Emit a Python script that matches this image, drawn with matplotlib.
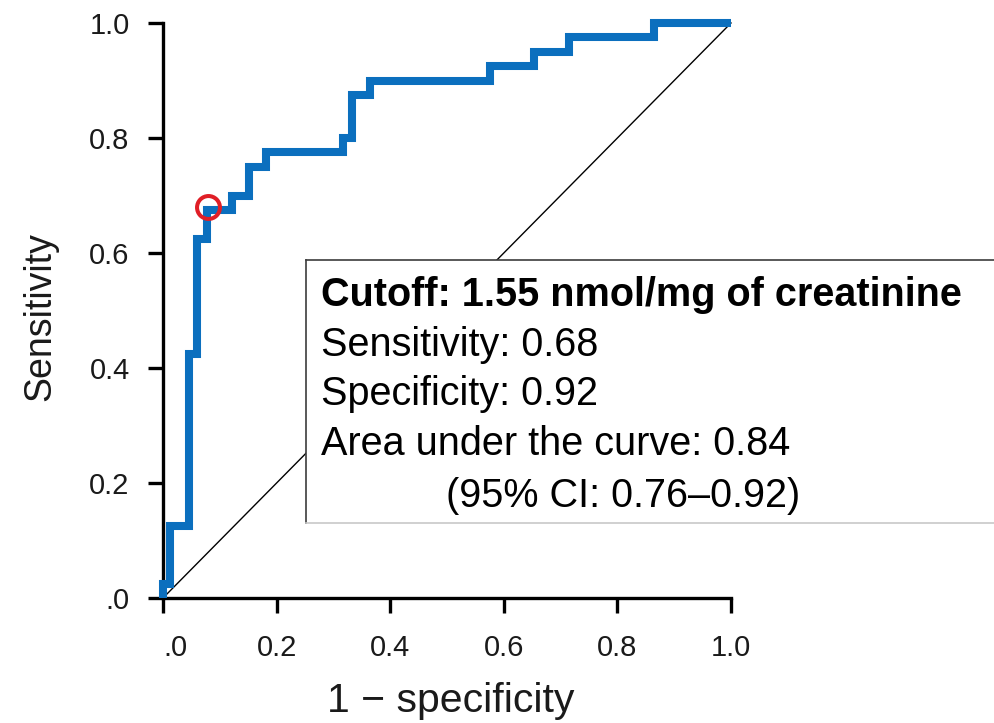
import matplotlib
matplotlib.use("Agg")
import matplotlib.pyplot as plt
from matplotlib.patches import Rectangle
from matplotlib.lines import Line2D

plt.rcParams['font.family'] = ['Liberation Sans', 'DejaVu Sans']

# ROC curve (1 - specificity, sensitivity), step points
fpr = [0.0, 0.0, 0.013, 0.045, 0.059, 0.078, 0.121, 0.151, 0.182,
       0.317, 0.333, 0.365, 0.575, 0.653, 0.714, 0.864, 1.0]
tpr = [0.0, 0.025, 0.125, 0.425, 0.625, 0.675, 0.700, 0.750, 0.775,
       0.800, 0.875, 0.900, 0.925, 0.950, 0.975, 1.0, 1.0]

cutoff = 1.55
sens = 0.68
spec = 0.92
auc = 0.84
ci = (0.76, 0.92)

ticks = [0.0, 0.2, 0.4, 0.6, 0.8, 1.0]
tick_labels = ['.0', '0.2', '0.4', '0.6', '0.8', '1.0']

W, H = 994, 723
fig = plt.figure(figsize=(W / 100, H / 100), dpi=100)
ax = fig.add_axes([163 / W, 1 - 598 / H, 568 / W, 575 / H])

# chance line
ax.plot([0, 1], [0, 1], color='black', lw=1.0, zorder=1, clip_on=False)

ax.plot(fpr, tpr, drawstyle='steps-post', color='#0b6fbe', lw=5.8,
        solid_joinstyle='miter', solid_capstyle='butt', zorder=3, clip_on=False)

# optimal cutoff point
ax.plot([1 - spec], [sens], 'o', ms=16.5, mfc='none', mec='#e01e26', mew=2.9,
        zorder=4, clip_on=False)

ax.set_xlim(0, 1)
ax.set_ylim(0, 1)
for s in ['top', 'right']:
    ax.spines[s].set_visible(False)
for s in ['left', 'bottom']:
    ax.spines[s].set_linewidth(2.4)

tick_font = 21
ax.set_xticks(ticks)
ax.set_xticklabels(tick_labels, fontsize=tick_font, color='#1a1a1a')
ax.set_yticks(ticks)
ax.set_yticklabels(tick_labels, fontsize=tick_font, color='#1a1a1a')
ax.tick_params(axis='both', direction='out', length=11, width=2.4)
ax.tick_params(axis='x', pad=15)
ax.tick_params(axis='y', pad=13)
ax.get_xticklabels()[0].set_horizontalalignment('left')

fig.text(451 / W, 1 - 712 / H, '1 \u2212 specificity', fontsize=29.5,
         ha='center', va='baseline', color='#1a1a1a')
fig.text(40 / W, 1 - 317 / H, 'Sensitivity', fontsize=27, rotation=90,
         ha='center', va='center', color='#1a1a1a')

# info box, running off the right edge
bx0, by0, by1 = 306 / W, 1 - 523 / H, 1 - 260 / H
fig.add_artist(Rectangle((bx0, by0), 1.0, by1 - by0, transform=fig.transFigure,
                         facecolor='white', edgecolor='none', zorder=5))
fig.add_artist(Line2D([bx0, 1.0], [by1, by1], transform=fig.transFigure,
                      color='#3c3c3c', lw=1.2, zorder=6))
fig.add_artist(Line2D([bx0, bx0], [by0, by1], transform=fig.transFigure,
                      color='#3c3c3c', lw=1.2, zorder=6))
fig.add_artist(Line2D([bx0, 1.0], [by0, by0], transform=fig.transFigure,
                      color='#c8c8c8', lw=1.2, zorder=6))

tx = 321 / W
fs = 28.5
fig.text(tx, 1 - 306 / H, f'Cutoff: {cutoff:.2f} nmol/mg of creatinine',
         fontsize=fs, fontweight='bold', va='baseline', zorder=7)
fig.text(tx, 1 - 356 / H, f'Sensitivity: {sens:.2f}', fontsize=fs,
         va='baseline', zorder=7)
fig.text(tx, 1 - 405 / H, f'Specificity: {spec:.2f}', fontsize=fs,
         va='baseline', zorder=7)
fig.text(tx, 1 - 455 / H, f'Area under the curve: {auc:.2f}', fontsize=fs,
         va='baseline', zorder=7)
fig.text(446 / W, 1 - 507 / H, f'(95% CI: {ci[0]:.2f}\u2013{ci[1]:.2f})',
         fontsize=fs, va='baseline', zorder=7)

fig.savefig('out.png', dpi=100)
